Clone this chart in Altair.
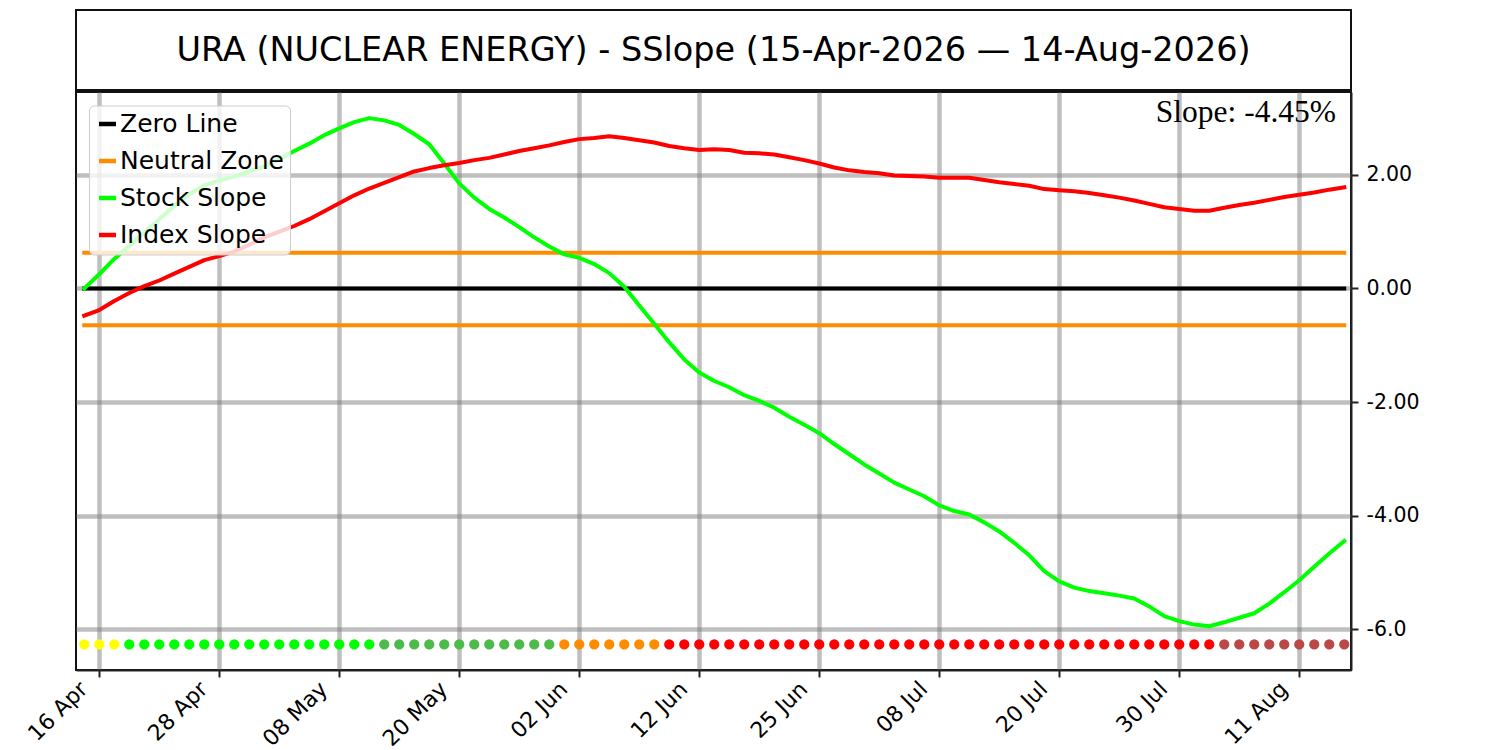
import json
import altair as alt
import pandas as pd

# ---------------- data ----------------
title_text = "URA (NUCLEAR ENERGY) - SSlope (15-Apr-2026 \u2014 14-Aug-2026)"

stock_slope = [
    0.00, 0.25, 0.52, 0.75, 0.98, 1.22, 1.45, 1.66, 1.82, 1.90,
    1.97, 2.06, 2.15, 2.28, 2.42, 2.55, 2.70, 2.82, 2.93, 3.00,
    2.96, 2.88, 2.72, 2.54, 2.20, 1.85, 1.60, 1.40, 1.25, 1.08,
    0.90, 0.74, 0.60, 0.54, 0.43, 0.27, 0.03, -0.30, -0.62, -0.95,
    -1.25, -1.48, -1.63, -1.74, -1.88, -1.98, -2.10, -2.26, -2.40, -2.55,
    -2.74, -2.92, -3.10, -3.26, -3.42, -3.54, -3.66, -3.82, -3.92, -3.98,
    -4.12, -4.28, -4.48, -4.70, -4.98, -5.16, -5.27, -5.33, -5.37, -5.41,
    -5.46, -5.60, -5.77, -5.86, -5.92, -5.95, -5.88, -5.80, -5.72, -5.55,
    -5.35, -5.14, -4.90, -4.67, -4.45,
]

index_slope = [
    -0.48, -0.38, -0.22, -0.08, 0.04, 0.14, 0.26, 0.38, 0.50, 0.57,
    0.65, 0.77, 0.90, 1.00, 1.10, 1.22, 1.36, 1.50, 1.64, 1.76,
    1.86, 1.96, 2.06, 2.12, 2.17, 2.21, 2.26, 2.30, 2.36, 2.42,
    2.47, 2.52, 2.58, 2.63, 2.65, 2.68, 2.65, 2.61, 2.57, 2.51,
    2.47, 2.44, 2.45, 2.44, 2.39, 2.38, 2.36, 2.31, 2.26, 2.20,
    2.13, 2.08, 2.05, 2.03, 1.99, 1.98, 1.97, 1.95, 1.95, 1.95,
    1.91, 1.87, 1.84, 1.81, 1.75, 1.73, 1.71, 1.68, 1.64, 1.60,
    1.55, 1.49, 1.43, 1.40, 1.37, 1.37, 1.42, 1.47, 1.51, 1.56,
    1.61, 1.65, 1.69, 1.74, 1.78,
]

neutral_upper = 0.63
neutral_lower = -0.65
dot_level = -6.27

# status dots along the bottom: (colour, number of consecutive days)
dot_runs = [
    ("#FFFF00", 3),
    ("#00FF00", 17),
    ("#4CBB4A", 12),
    ("#FF8C00", 7),
    ("#FF0000", 37),
    ("#BB4848", 9),
]

tick_idx = [1, 9, 17, 25, 33, 41, 49, 57, 65, 73, 81]
tick_labels = ["16 Apr", "28 Apr", "08 May", "20 May", "02 Jun", "12 Jun",
               "25 Jun", "08 Jul", "20 Jul", "30 Jul", "11 Aug"]
y_ticks = [-6, -4, -2, 0, 2]

series_names = ["Zero Line", "Neutral Zone", "Stock Slope", "Index Slope"]
series_colors = ["#000000", "#FF8C00", "#00FF00", "#FF0000"]

# ---------------- tables ----------------
n = len(stock_slope)
last = n - 1
rows = []
rows += [{"series": "Zero Line", "part": "zero", "idx": i, "value": 0.0} for i in (0, last)]
rows += [{"series": "Neutral Zone", "part": "up", "idx": i, "value": neutral_upper} for i in (0, last)]
rows += [{"series": "Neutral Zone", "part": "lo", "idx": i, "value": neutral_lower} for i in (0, last)]
rows += [{"series": "Stock Slope", "part": "stock", "idx": i, "value": v} for i, v in enumerate(stock_slope)]
rows += [{"series": "Index Slope", "part": "index", "idx": i, "value": v} for i, v in enumerate(index_slope)]
lines_df = pd.DataFrame(rows)

dot_colors = []
for col, cnt in dot_runs:
    dot_colors += [col] * cnt
dots_df = pd.DataFrame({"idx": list(range(n)), "value": [dot_level] * n, "col": dot_colors})

slope_df = pd.DataFrame({"t": [f"Slope: {stock_slope[-1]:.2f}%"]})
title_df = pd.DataFrame({"t": [title_text]})

# ---------------- encodings ----------------
W, H = 1275, 578
TITLE_H = 80

x_label_expr = "{}[indexof({}, datum.value)]".format(json.dumps(tick_labels), json.dumps(tick_idx))
y_label_expr = ("datum.value == -6 ? '-6.0' : "
                "(datum.value < 0 ? '-' : '') + format(abs(datum.value), '.2f')")

x_enc = alt.X(
    "idx:Q",
    scale=alt.Scale(domain=[-0.55, 84.45], nice=False, zero=False),
    axis=alt.Axis(
        values=tick_idx, labelExpr=x_label_expr, labelAngle=315,
        labelAlign="right", labelBaseline="top", labelFontSize=22,
        labelFont="DejaVu Sans", labelColor="black", labelPadding=1,
        labelOffset=-23,
        tickSize=7, tickWidth=2, tickColor="#222222",
        domainColor="#222222", domainWidth=2,
        grid=True, gridColor="#808080", gridOpacity=0.5, gridWidth=4.5,
        title=None, labelOverlap=False,
    ),
)
y_enc = alt.Y(
    "value:Q",
    scale=alt.Scale(domain=[-6.72, 3.46], nice=False, zero=False),
    axis=alt.Axis(
        orient="right", values=y_ticks, labelExpr=y_label_expr,
        labelFontSize=20.5, labelFont="DejaVu Sans", labelColor="black",
        labelPadding=8, tickSize=7, tickWidth=2, tickColor="#222222",
        domainColor="#222222", domainWidth=2,
        grid=True, gridColor="#808080", gridOpacity=0.5, gridWidth=4.5,
        title=None,
    ),
)

legend = alt.Legend(
    title=None, orient="none", legendX=13, legendY=TITLE_H + 15.5, direction="vertical",
    labelFontSize=25, labelFont="DejaVu Sans", labelColor="black",
    symbolType="stroke", symbolStrokeWidth=4.5, symbolSize=289,
    fillColor="rgba(255,255,255,0.8)", strokeColor="#cccccc", cornerRadius=5,
    padding=6, rowPadding=11, labelOffset=0, labelLimit=400,
)
color_enc = alt.Color("series:N",
                      scale=alt.Scale(domain=series_names, range=series_colors),
                      legend=legend)

base = alt.Chart(lines_df)


def line_layer(name):
    return base.transform_filter(alt.datum.series == name).mark_line(
        strokeWidth=4, strokeCap="square", strokeJoin="round"
    ).encode(x=x_enc, y=y_enc, color=color_enc, detail="part:N")


layers = [line_layer(s) for s in series_names]

dots = alt.Chart(dots_df).mark_circle(size=105, opacity=1).encode(
    x=x_enc, y=y_enc, color=alt.Color("col:N", scale=None)
)

slope_text = alt.Chart(slope_df).mark_text(
    font="Liberation Serif", fontSize=31.5, color="black",
    align="right", baseline="alphabetic"
).encode(x=alt.value(W - 15), y=alt.value(29.5), text="t:N")

main = alt.layer(*layers, dots, slope_text).properties(width=W, height=H)

title_panel = alt.Chart(title_df).mark_text(
    font="DejaVu Sans", fontSize=33.5, color="black", align="center", baseline="middle"
).encode(x=alt.value(W / 2), y=alt.value(41), text="t:N").properties(width=W, height=TITLE_H)

chart = alt.vconcat(title_panel, main, spacing=0).properties(
    padding={"left": 14, "top": 1, "right": 10, "bottom": 5},
    background="white",
).configure_view(stroke="#111111", strokeWidth=2)

chart.save("out.html", embed_options={"renderer": "svg", "actions": False})
